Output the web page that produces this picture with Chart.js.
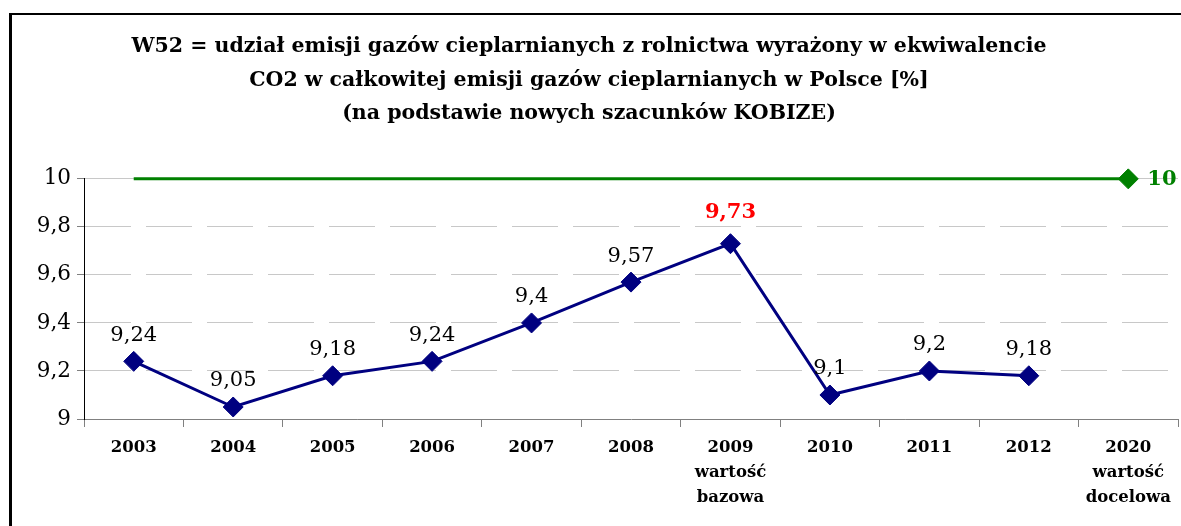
<!DOCTYPE html>
<html>
<head>
<meta charset="utf-8">
<script src="https://cdn.jsdelivr.net/npm/chart.js@4/dist/chart.umd.min.js"></script>
<style>
  html, body { margin: 0; padding: 0; background: #fff; overflow: hidden; }
  #frame {
    position: absolute; left: 9px; top: 13px; width: 1300px; height: 700px;
    border-left: 3px solid #000; border-top: 2px solid #000;
  }
  #chart { position: absolute; left: 0; top: 0; }
</style>
</head>
<body>
<div id="frame"></div>
<canvas id="chart" width="1181" height="526"></canvas>
<script>
// categories (multi-line labels for base and target years)
const years = [
  "2003", "2004", "2005", "2006", "2007", "2008",
  ["2009", "wartość", "bazowa"],
  "2010", "2011", "2012",
  ["2020", "wartość", "docelowa"],
];
// W52 share of agriculture in total GHG emissions [%]
const udzial = [9.24, 9.05, 9.18, 9.24, 9.4, 9.57, 9.73, 9.1, 9.2, 9.18, null];
// 2020 target
const cel = [10, 10, 10, 10, 10, 10, 10, 10, 10, 10, 10];
const yTicks = [9, 9.2, 9.4, 9.6, 9.8, 10];

const titleLines = [
  "W52 = udział emisji gazów cieplarnianych z rolnictwa wyrażony w ekwiwalencie",
  "CO2 w całkowitej emisji gazów cieplarnianych w Polsce [%]",
  "(na podstawie nowych szacunków KOBIZE)",
];

const serif = "'DejaVu Serif', serif";
const fmt = (v) => String(+v.toFixed(2)).replace(".", ",");

// draws the value labels next to points
const valueLabels = {
  id: "valueLabels",
  afterDatasetsDraw(chart) {
    const ctx = chart.ctx;
    ctx.save();
    ctx.textBaseline = "middle";

    const m0 = chart.getDatasetMeta(0);
    m0.data.forEach((pt, i) => {
      const v = udzial[i];
      if (v == null) return;
      const base = i === 6;
      ctx.font = (base ? "bold " : "") + "21px " + serif;
      ctx.fillStyle = base ? "#ff0000" : "#000000";
      ctx.textAlign = "center";
      ctx.fillText(fmt(v), pt.x, pt.y - (base ? 31 : 26));
    });

    const m1 = chart.getDatasetMeta(1);
    const last = m1.data[m1.data.length - 1];
    ctx.font = "bold 21px " + serif;
    ctx.fillStyle = "#008000";
    ctx.textAlign = "left";
    ctx.fillText(fmt(cel[cel.length - 1]), last.x + 19, last.y + 1);
    ctx.restore();
  },
};

new Chart(document.getElementById("chart"), {
  type: "line",
  data: {
    labels: years,
    datasets: [
      {
        label: "W52",
        data: udzial,
        borderColor: "#000080",
        backgroundColor: "#000080",
        borderWidth: 3,
        pointStyle: "rectRot",
        pointRadius: 10,
        pointBorderWidth: 1,
        tension: 0,
        clip: false,
      },
      {
        label: "cel 2020",
        data: cel,
        borderColor: "#008000",
        backgroundColor: "#008000",
        borderWidth: 3,
        pointStyle: "rectRot",
        pointRadius: [0, 0, 0, 0, 0, 0, 0, 0, 0, 0, 10],
        pointBorderWidth: 1,
        tension: 0,
        clip: false,
      },
    ],
  },
  options: {
    responsive: false,
    animation: false,
    events: [],
    layout: { autoPadding: false, padding: { left: 0, right: 3, top: 0, bottom: 0 } },
    plugins: {
      legend: { display: false },
      tooltip: { enabled: false },
      title: {
        display: true,
        text: titleLines,
        color: "#000",
        font: { family: serif, size: 20.5, weight: "bold", lineHeight: 1.64 },
        padding: { top: 30, bottom: 48 },
      },
    },
    scales: {
      x: {
        offset: true,
        grid: {
          offset: true,
          drawOnChartArea: false,
          drawTicks: true,
          tickLength: 8,
          tickColor: "#808080",
        },
        border: { color: "#808080", width: 1 },
        ticks: {
          color: "#000",
          padding: 8,
          maxRotation: 0,
          autoSkip: false,
          font: { family: serif, size: 16.5, weight: "bold", lineHeight: "25px" },
        },
        afterFit: (s) => {
          s.height = 107;
          s.paddingLeft = 0;
          s.paddingRight = 0;
        },
      },
      y: {
        min: 9,
        max: 10,
        afterBuildTicks: (s) => { s.ticks = yTicks.map((v) => ({ value: v })); },
        grid: {
          color: "#c8c8c8",
          lineWidth: 1,
          tickLength: 7,
          tickColor: "#808080",
        },
        border: {
          color: "#000",
          width: 1,
          dash: (c) => (c.tick && c.tick.value === 10 ? [] : [46, 15]),
        },
        ticks: {
          color: "#000",
          padding: 6,
          font: { family: serif, size: 21.5 },
          callback: (v) => fmt(v),
        },
        afterFit: (s) => {
          s.width = 84;
          s.paddingTop = 0;
          s.paddingBottom = 0;
        },
      },
    },
  },
  plugins: [valueLabels],
});
</script>
</body>
</html>
